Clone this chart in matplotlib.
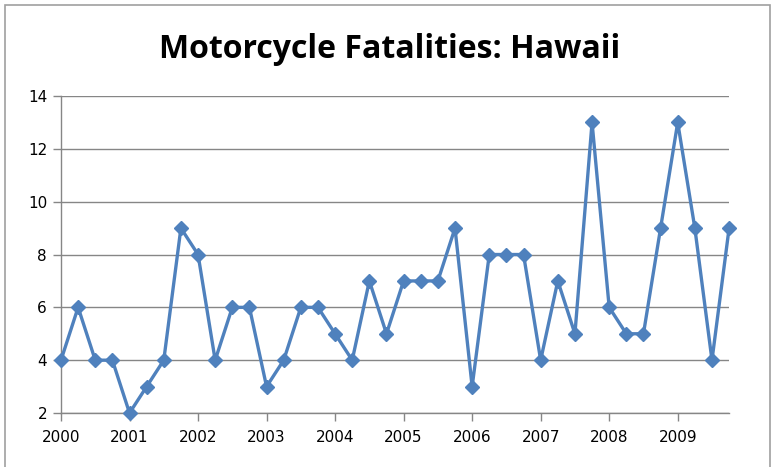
import matplotlib.pyplot as plt
from matplotlib.patches import Rectangle

# quarterly motorcycle fatalities, 2000 Q1 .. 2009 Q4
years = list(range(2000, 2010))
fatalities = [
    4, 6, 4, 4,
    2, 3, 4, 9,
    8, 4, 6, 6,
    3, 4, 6, 6,
    5, 4, 7, 5,
    7, 7, 7, 9,
    3, 8, 8, 8,
    4, 7, 5, 13,
    6, 5, 5, 9,
    13, 9, 4, 9,
]

LINE = '#4F81BD'
GRID = '#868686'

fig = plt.figure(figsize=(7.74, 4.67), dpi=100)
ax = fig.add_axes([0.0788, 0.1156, 0.8632, 0.6788])

x = list(range(len(fatalities)))
ax.plot(x, fatalities, color=LINE, linewidth=2.4, marker='D', markersize=7.5,
        markeredgecolor=LINE, markerfacecolor=LINE, clip_on=False, zorder=3)

ax.set_xlim(0, len(fatalities) - 1)
ax.set_ylim(2, 14)
ax.set_yticks(range(2, 15, 2))
ax.set_xticks(range(0, len(fatalities), 4))
ax.set_xticklabels([str(y) for y in years])

ax.grid(axis='y', color=GRID, linewidth=1.0)
ax.set_axisbelow(True)
for s in ['top', 'right']:
    ax.spines[s].set_visible(False)
for s in ['left', 'bottom']:
    ax.spines[s].set_color(GRID)
    ax.spines[s].set_linewidth(1.0)
ax.tick_params(axis='both', colors=GRID, length=6, width=1.0, labelcolor='black',
               labelsize=11)
ax.tick_params(axis='x', pad=6)
ax.tick_params(axis='y', pad=4)

fig.text(0.503, 0.895, 'Motorcycle Fatalities: Hawaii', ha='center', va='center',
         fontsize=23, fontweight='bold', family='Open Sans')

# chart border
fig.patches.append(Rectangle((0.007, -0.01), 0.988, 0.999, transform=fig.transFigure,
                             fill=False, edgecolor='#A0A0A0', linewidth=1.2))

fig.savefig('out.png', dpi=100)
